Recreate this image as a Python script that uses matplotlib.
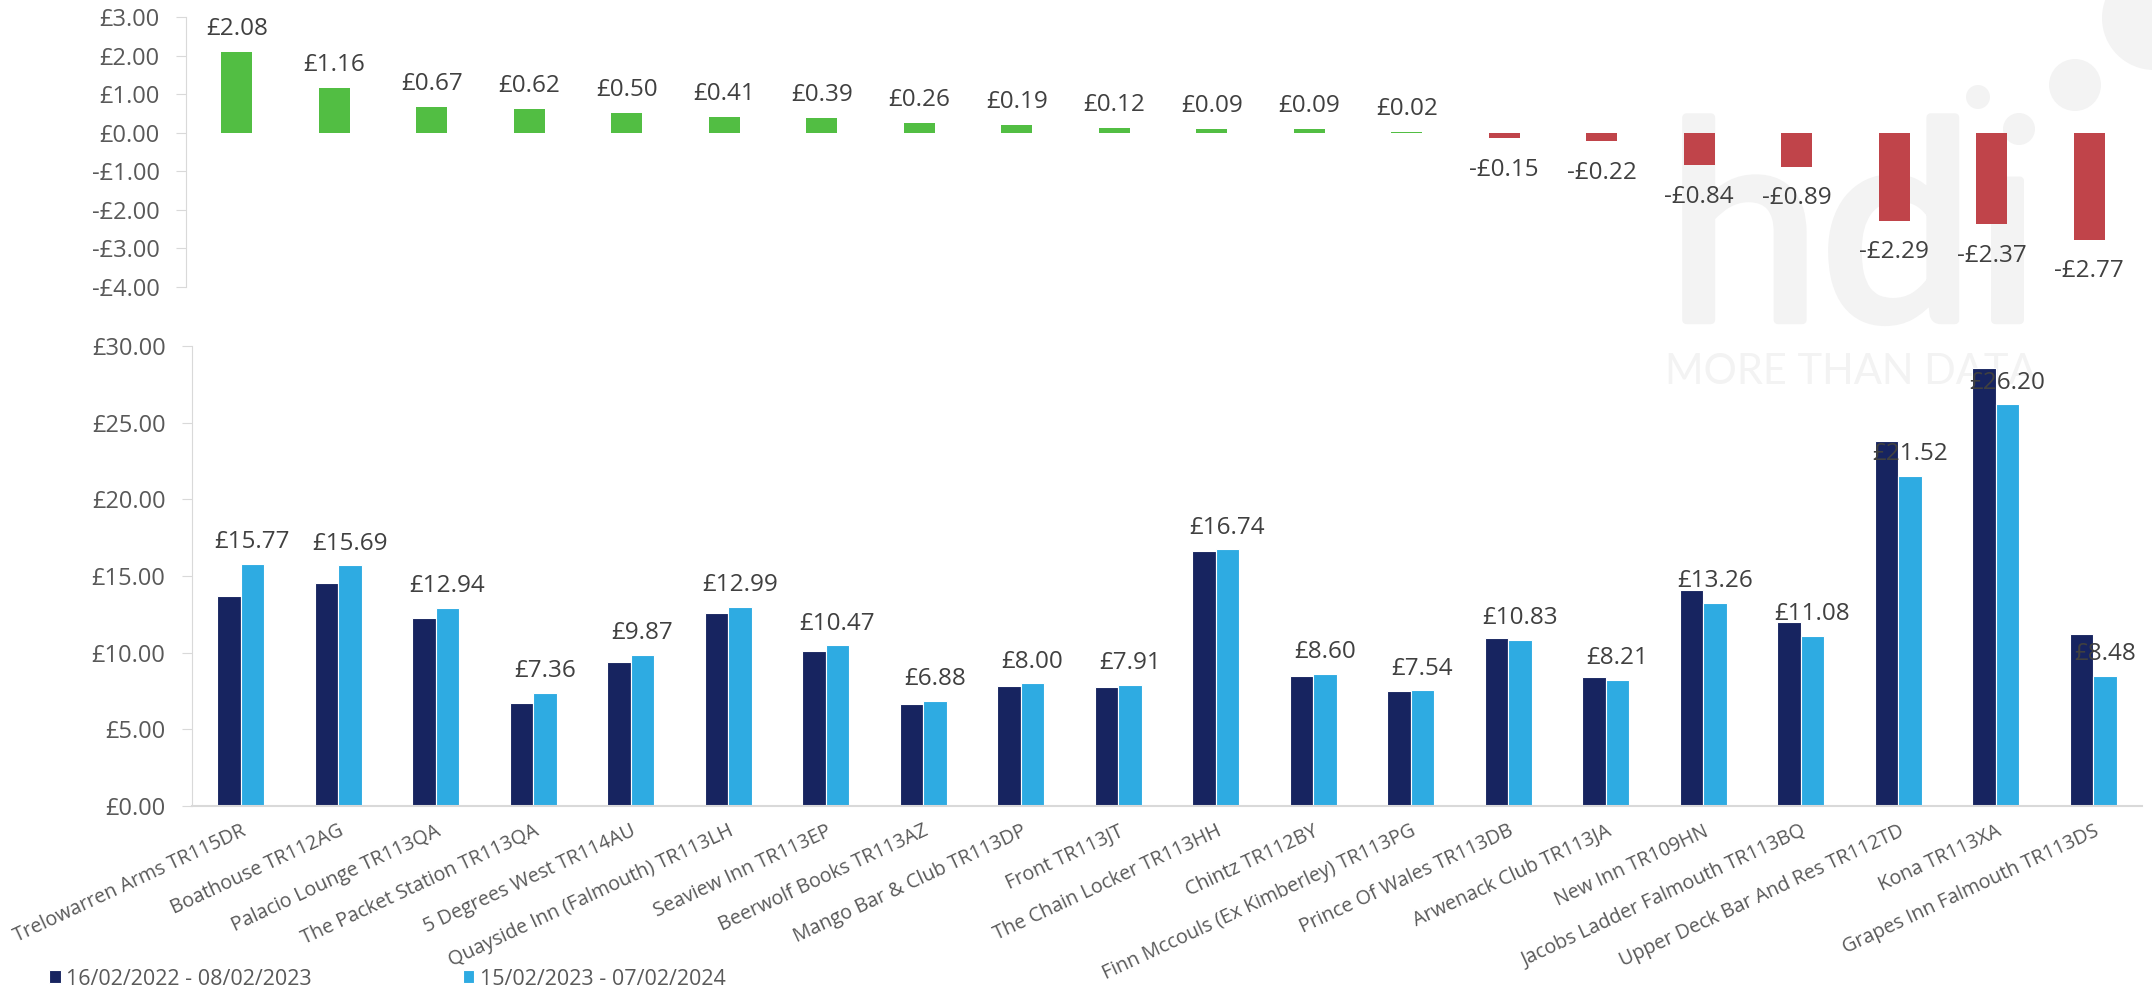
import numpy as np
import matplotlib.pyplot as plt
import matplotlib.patheffects as pe
from matplotlib.patches import Circle
from matplotlib.ticker import FuncFormatter

plt.rcParams['font.family'] = ['Open Sans', 'DejaVu Sans']

# venues, ordered by change in average spend
venues = [
    'Trelowarren Arms TR115DR', 'Boathouse TR112AG', 'Palacio Lounge TR113QA',
    'The Packet Station TR113QA', '5 Degrees West TR114AU',
    'Quayside Inn (Falmouth) TR113LH', 'Seaview Inn TR113EP',
    'Beerwolf Books TR113AZ', 'Mango Bar & Club TR113DP', 'Front TR113JT',
    'The Chain Locker TR113HH', 'Chintz TR112BY',
    'Finn Mccouls (Ex Kimberley) TR113PG', 'Prince Of Wales TR113DB',
    'Arwenack Club TR113JA', 'New Inn TR109HN', 'Jacobs Ladder Falmouth TR113BQ',
    'Upper Deck Bar And Res TR112TD', 'Kona TR113XA', 'Grapes Inn Falmouth TR113DS',
]
period_prev = '16/02/2022 - 08/02/2023'
period_curr = '15/02/2023 - 07/02/2024'

spend_prev = [13.69, 14.53, 12.27, 6.74, 9.37, 12.58, 10.08, 6.62, 7.81, 7.79,
              16.65, 8.51, 7.52, 10.98, 8.43, 14.10, 11.97, 23.81, 28.57, 11.25]
spend_curr = [15.77, 15.69, 12.94, 7.36, 9.87, 12.99, 10.47, 6.88, 8.00, 7.91,
              16.74, 8.60, 7.54, 10.83, 8.21, 13.26, 11.08, 21.52, 26.20, 8.48]
change = [2.08, 1.16, 0.67, 0.62, 0.50, 0.41, 0.39, 0.26, 0.19, 0.12,
          0.09, 0.09, 0.02, -0.15, -0.22, -0.84, -0.89, -2.29, -2.37, -2.77]

NAVY = '#172460'
SKY = '#2EABE2'
GREEN = '#52BE43'
RED = '#C0444A'
AXIS = '#D9D9D9'
TICK_TXT = '#595959'
LABEL_TXT = '#404040'
MARK = '#F3F3F3'

W, H = 2152, 996
fig = plt.figure(figsize=(W / 100, H / 100), dpi=100)


def add_axes_px(left, top, right, bottom):
    return fig.add_axes([left / W, 1 - bottom / H, (right - left) / W, (bottom - top) / H])


def money(v, pos=None):
    return ('-' if v < 0 else '') + '£{:.2f}'.format(abs(v))


x = np.arange(len(venues))

# ---- watermark (behind everything) ----
fig.text(1667 / W, 1 - 320 / H, 'hd\u0131', fontsize=198, family=['Lato', 'DejaVu Sans'],
         color=MARK, ha='left', va='baseline', zorder=-5,
         path_effects=[pe.withStroke(linewidth=6, foreground=MARK)])
fig.text(1665 / W, 1 - 384 / H, 'MORE THAN DATA', fontsize=30, family='Lato',
         color=MARK, ha='left', va='baseline', zorder=-5)
for cx, cy, r in [(1978, 97, 12), (2019, 129, 16), (2075, 85, 26), (2154, 18, 52)]:
    fig.add_artist(Circle((cx, H - cy), r, transform=None, color=MARK, zorder=-5, lw=0))

# ---- top: change ----
ax1 = add_axes_px(186, 17, 2138, 287)
ax1.set_facecolor('none')
cols = [GREEN if v >= 0 else RED for v in change]
bars = ax1.bar(x, change, width=0.32, color=cols)
ax1.bar_label(bars, labels=[money(v) if v >= 0 else '' for v in change], padding=8,
              fontsize=17.5, color=LABEL_TXT)
ax1.bar_label(bars, labels=[money(v) if v < 0 else '' for v in change], padding=14,
              fontsize=17.5, color=LABEL_TXT)
ax1.set_xlim(-0.52, 19.5)
ax1.set_ylim(-4, 3)
ax1.set_yticks(np.arange(-4, 4, 1))
ax1.yaxis.set_major_formatter(FuncFormatter(money))
ax1.set_xticks([])
for s in ['top', 'right', 'bottom']:
    ax1.spines[s].set_visible(False)
ax1.spines['left'].set_color(AXIS)
ax1.tick_params(axis='y', colors=AXIS, labelcolor=TICK_TXT, labelsize=17,
                length=7, pad=12)

# ---- bottom: average spend ----
ax2 = add_axes_px(192, 346, 2142, 806)
ax2.set_facecolor('none')
w = 0.24
b_prev = ax2.bar(x - w / 2, spend_prev, width=w, color=NAVY, edgecolor='white',
                 linewidth=0.8, label=period_prev)
b_curr = ax2.bar(x + w / 2, spend_curr, width=w, color=SKY, edgecolor='white',
                 linewidth=0.8, label=period_curr)
ax2.bar_label(b_curr, labels=[money(v) for v in spend_curr], padding=7,
              fontsize=17.5, color=LABEL_TXT)
ax2.set_xlim(-0.5, 19.5)
ax2.set_ylim(0, 30)
ax2.set_yticks(np.arange(0, 31, 5))
ax2.yaxis.set_major_formatter(FuncFormatter(money))
ax2.set_xticks(x)
ax2.set_xticklabels(venues, rotation=25, ha='right', va='top',
                    rotation_mode='anchor', fontsize=14.2, color=TICK_TXT)
for s in ['top', 'right']:
    ax2.spines[s].set_visible(False)
ax2.spines['left'].set_color(AXIS)
ax2.spines['bottom'].set_color(AXIS)
ax2.spines['bottom'].set_linewidth(1.5)
ax2.tick_params(axis='y', colors=AXIS, labelcolor=TICK_TXT, labelsize=17,
                length=7, pad=12)
ax2.tick_params(axis='x', length=0, pad=11)

fig.legend(handles=[b_prev, b_curr], loc='center left',
           bbox_to_anchor=(49 / W, 1 - 979 / H), frameon=False, ncol=2,
           handlelength=0.55, handleheight=0.55, handletextpad=0.25,
           columnspacing=7.0, borderaxespad=0, borderpad=0,
           fontsize=15.5, labelcolor=TICK_TXT)

fig.savefig('out.png', dpi=100)
